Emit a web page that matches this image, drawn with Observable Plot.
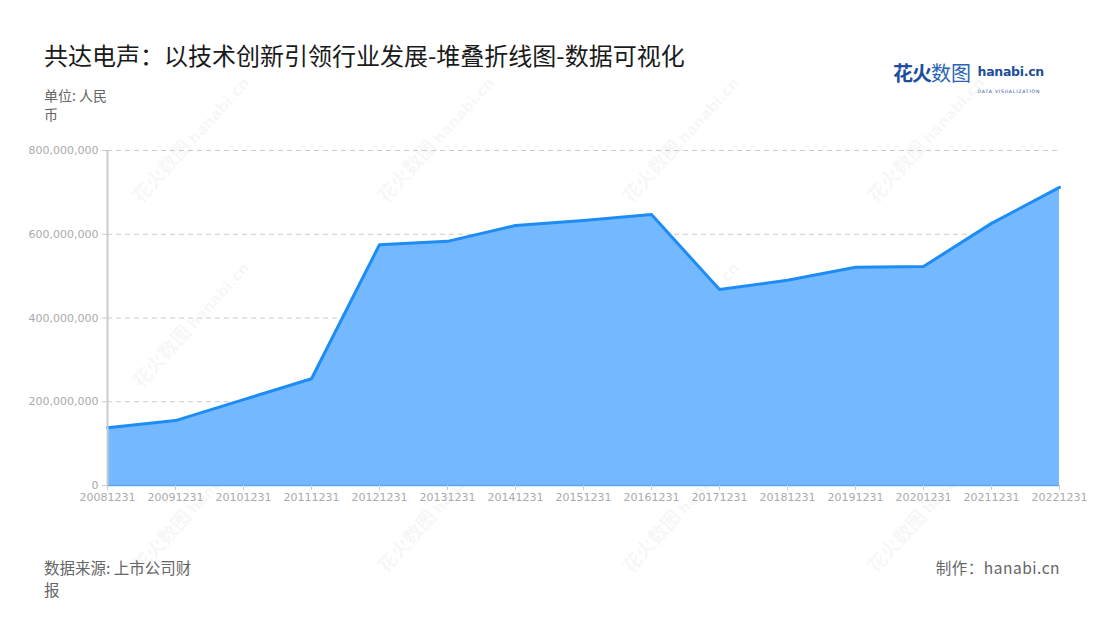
<!DOCTYPE html>
<html>
<head>
<meta charset="utf-8">
<script src="https://cdn.jsdelivr.net/npm/d3@7"></script>
<script src="https://cdn.jsdelivr.net/npm/@observablehq/plot@0.6"></script>
<style>
  html, body { margin: 0; padding: 0; background: #fff; }
  body { width: 1100px; height: 620px; position: relative; overflow: hidden; font-family: "Noto Sans CJK SC", "Noto Sans", sans-serif; }
  .abs { position: absolute; }
  #title { left: 44px; top: 37px; font-size: 24px; color: #1a1a1a; }
  #unit { left: 44px; top: 86px; width: 72px; font-size: 14px; line-height: 19px; color: #666; }
  #source { left: 44px; top: 556px; width: 156px; font-size: 15.5px; line-height: 22px; color: #666; }
  #maker { right: 40px; top: 556px; font-size: 15.5px; color: #666; letter-spacing: 0.5px; }
  #chart { left: 0; top: 130px; }
  #logo { left: 893px; top: 58px; white-space: nowrap; }
  .wm { position: absolute; color: rgba(0,0,0,0.055); transform: rotate(-48deg); transform-origin: left center; white-space: nowrap; pointer-events: none; font-weight: 700; font-size: 19px; }
  .wm span { font-family: 'DejaVu Sans'; font-size: 15px; margin-left: 4px; }
</style>
</head>
<body>
<div id="title" class="abs">共达电声：以技术创新引领行业发展-堆叠折线图-数据可视化</div>
<div id="unit" class="abs">单位: 人民币</div>
<div id="logo" class="abs">
  <span style="font-size:20px;font-weight:700;color:#1d4f9c;letter-spacing:-1px;">花火</span><span style="font-size:20px;color:#2a64b8;">数图</span>
  <span style="display:inline-block;vertical-align:top;margin-left:3px;line-height:1;">
    <span style="font-family:'DejaVu Sans';font-size:12.5px;font-weight:700;color:#1d4f9c;position:relative;top:3px;letter-spacing:-0.3px;">hanabi.cn</span><br>
    <span style="font-family:'DejaVu Sans';font-size:4.6px;color:#1d4f9c;letter-spacing:0.8px;position:relative;top:2px;">DATA VISUALIZATION</span>
  </span>
</div>
<div id="wms"></div>
<div id="chart" class="abs"></div>
<div id="source" class="abs">数据来源: 上市公司财报</div>
<div id="maker" class="abs">制作：hanabi.cn</div>
<script>
const years = ["20081231","20091231","20101231","20111231","20121231","20131231","20141231","20151231","20161231","20171231","20181231","20191231","20201231","20211231","20221231"];
const revenue = [138e6, 155e6, 205e6, 255e6, 575e6, 583e6, 621e6, 633e6, 647e6, 468e6, 490e6, 521e6, 523e6, 626e6, 712e6];
const yTicks = [0, 200e6, 400e6, 600e6, 800e6];

const data = years.map((d, i) => ({year: d, value: revenue[i]}));
const fmt = d3.format(",");

const chart = Plot.plot({
  width: 1100,
  height: 390,
  marginLeft: 107,
  marginRight: 41,
  marginTop: 20,
  marginBottom: 35,
  style: {fontFamily: "'DejaVu Sans', sans-serif", fontSize: "11px", color: "#aaa", background: "transparent"},
  x: {type: "point", domain: years, padding: 0, label: null},
  y: {domain: [0, 800e6], label: null},
  marks: [
    Plot.gridY(yTicks, {stroke: "#ccc", strokeOpacity: 1, strokeDasharray: "5,4", strokeWidth: 1}),
    Plot.areaY(data, {x: "year", y: "value", fill: "#74b8ff", fillOpacity: 1}),
    Plot.lineY(data, {x: "year", y: "value", stroke: "#1e8cf5", strokeWidth: 3}),
    Plot.ruleY([0], {stroke: "#5aa6f0", strokeWidth: 1.5}),
    Plot.ruleX([years[0]], {y1: 0, y2: 800e6, stroke: "#ccc", strokeWidth: 2}),
    Plot.axisY(yTicks, {tickFormat: fmt, tickSize: 5, tickPadding: 4, stroke: "#ccc", fill: "#aaa", fontSize: 11}),
    Plot.axisX(years, {tickSize: 5, tickPadding: 3, stroke: "#ccc", fill: "#aaa", fontSize: 11})
  ]
});
document.getElementById("chart").appendChild(chart);

// light watermarks
const wms = document.getElementById("wms");
const cols = [135, 380, 625, 870];
const rows = [185, 370, 555];
cols.forEach(cx => rows.forEach(cy => {
  const a = document.createElement("div");
  a.className = "wm"; a.style.left = cx + "px"; a.style.top = cy + "px";
  a.innerHTML = "花火数图<span>hanabi.cn</span>";
  wms.appendChild(a);
}));
</script>
</body>
</html>
